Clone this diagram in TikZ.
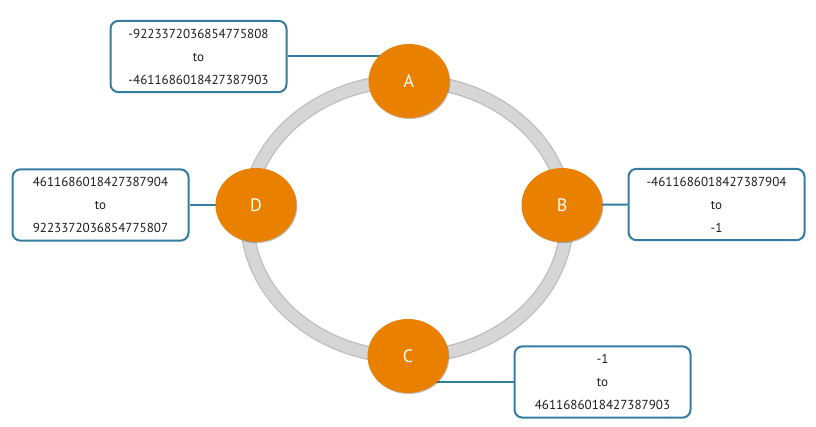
\documentclass[tikz,border=0pt]{standalone}
\usepackage{fontspec}
\setmainfont{PT Sans}
\usetikzlibrary{shapes.geometric,backgrounds,shadows}
\definecolor{ringgray}{RGB}{214,214,214}
\definecolor{ringedge}{RGB}{190,190,190}
\definecolor{nodeorange}{RGB}{234,128,0}
\definecolor{boxblue}{RGB}{52,124,160}
\definecolor{txt}{RGB}{30,30,30}
\tikzset{
  px/.style={x=0.75pt,y=-0.75pt},
  token/.style={ellipse,fill=nodeorange,minimum width=60.75pt,minimum height=55.5pt,
    inner sep=0pt,text=white,font=\fontsize{13.5}{15}\selectfont,
    drop shadow={shadow xshift=0.6pt,shadow yshift=-0.8pt,opacity=0.25,fill=black}},
  rangebox/.style={draw=boxblue,line width=1.5pt,rounded corners=6pt,fill=white,
    minimum width=132pt,minimum height=53.5pt,inner sep=0pt,align=center,
    text=txt,font=\fontsize{9.8}{17.3}\selectfont},
  link/.style={draw=boxblue,line width=1.5pt}
}
\begin{document}
\begin{tikzpicture}[px]
\useasboundingbox (0,0) rectangle (816,427);
% ring
\draw[ringedge,line width=10.5pt] (407,219) ellipse [x radius=160,y radius=138];
\draw[ringgray,line width=8.5pt] (407,219) ellipse [x radius=160,y radius=138];
% boxes
\node[rangebox] (Abox) at (198.5,56.5) {-9223372036854775808\\to\\-4611686018427387903};
\node[rangebox] (Dbox) at (100.5,205) {4611686018427387904\\to\\9223372036854775807};
\node[rangebox] (Bbox) at (716.5,204.5) {-4611686018427387904\\to\\-1};
\node[rangebox] (Cbox) at (602.5,382) {-1\\to\\4611686018427387903};
% tokens
\node[token] (A) at (409,81) {A};
\node[token] (B) at (562,205) {B};
\node[token] (C) at (408,356) {C};
\node[token] (D) at (256,205) {D};
% connectors
\begin{pgfonlayer}{background}
\path[link] (Abox.east) -- (Abox.east -| A.center);
\path[link] (Dbox.east) -- (D.center);
\path[link] (Bbox.west) -- (B.center);
\path[link] (Cbox.west) -- (Cbox.west -| C.center);
\end{pgfonlayer}
\end{tikzpicture}
\end{document}
